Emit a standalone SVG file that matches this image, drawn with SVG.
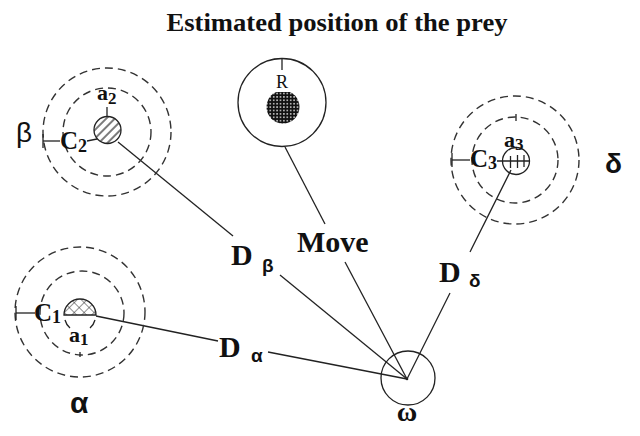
<svg xmlns="http://www.w3.org/2000/svg" width="640" height="436" viewBox="0 0 640 436">
<defs>
<style>
.ln{stroke:#222;stroke-width:1.3;fill:none}
.ds{stroke:#333;stroke-width:1.4;fill:none;stroke-dasharray:8 5}
.sr{font-family:"Liberation Serif","Times New Roman",serif;font-weight:bold;fill:#111}
.ss{font-family:"Liberation Sans",Arial,sans-serif;fill:#111}
.sb{font-family:"Liberation Sans",Arial,sans-serif;font-weight:bold;fill:#111}
</style>
<pattern id="diag" width="6" height="6" patternUnits="userSpaceOnUse" patternTransform="rotate(-45)">
<line x1="0" y1="3" x2="6" y2="3" stroke="#222" stroke-width="1.2"/>
</pattern>
<pattern id="xh" width="7" height="7" patternUnits="userSpaceOnUse" patternTransform="rotate(45)">
<path d="M0 0H7M0 0V7" stroke="#222" stroke-width="1"/>
</pattern>
<pattern id="dots" width="3.4" height="3.4" patternUnits="userSpaceOnUse">
<rect width="3.4" height="3.4" fill="#111"/>
<circle cx="1.7" cy="1.7" r="0.75" fill="#fff"/>
</pattern>
</defs>
<rect width="640" height="436" fill="#fff"/>
<text class="sr" x="337" y="31" font-size="25" text-anchor="middle" textLength="341" lengthAdjust="spacingAndGlyphs">Estimated position of the prey</text>

<g id="connectors">
<line class="ln" x1="118" y1="142" x2="233" y2="236"/>
<line class="ln" x1="280" y1="275" x2="407" y2="379"/>
<line class="ln" x1="285" y1="147" x2="325" y2="224"/>
<line class="ln" x1="345" y1="262" x2="407" y2="379"/>
<line class="ln" x1="96" y1="316" x2="218" y2="341"/>
<line class="ln" x1="268" y1="352" x2="407" y2="379"/>
<line class="ln" x1="511" y1="170" x2="470" y2="252"/>
<line class="ln" x1="450" y1="293" x2="407" y2="379"/>
<text class="sr" x="231" y="265" font-size="30">D</text>
<text class="sb" x="262" y="272" font-size="19">β</text>
<text class="sr" x="297" y="252" font-size="30">Move</text>
<text class="sr" x="219" y="357" font-size="30">D</text>
<text class="sb" x="251" y="362" font-size="19">α</text>
<text class="sr" x="439" y="282" font-size="30">D</text>
<text class="sb" x="469" y="287" font-size="19">δ</text>
</g>

<g id="beta">
<circle class="ds" cx="107" cy="132" r="64"/>
<circle class="ds" cx="107" cy="132" r="44"/>
<circle cx="107.5" cy="130" r="13.5" fill="url(#diag)" stroke="#222" stroke-width="1.3"/>
<line class="ln" x1="107" y1="107" x2="107" y2="117"/>
<line class="ln" x1="43" y1="141" x2="60" y2="141"/>
<line class="ln" x1="43" y1="134" x2="43" y2="148"/>
<line class="ln" x1="87" y1="141" x2="97" y2="139"/>
<text class="sr" x="60" y="149" font-size="25">C<tspan font-size="18" dy="3">2</tspan></text>
<text class="sr" x="97" y="100" font-size="22">a<tspan font-size="17" dy="4">2</tspan></text>
<text class="ss" x="16" y="142" font-size="28">β</text>
</g>

<g id="prey">
<circle class="ln" cx="282" cy="102.5" r="44"/>
<line class="ln" x1="282" y1="58" x2="282" y2="70"/>
<circle cx="283" cy="107" r="16.5" fill="url(#dots)"/>
<rect x="272" y="89" width="20" height="3" fill="#fff"/>
<text x="282" y="88" font-size="18" text-anchor="middle" font-family="Liberation Serif, serif" fill="#111">R</text>
</g>

<g id="delta">
<circle class="ds" cx="515" cy="160" r="64"/>
<circle class="ds" cx="515" cy="160" r="43"/>
<circle class="ln" cx="516" cy="161" r="13.5"/>
<line class="ln" x1="497" y1="161" x2="530" y2="161"/>
<line class="ln" x1="510.5" y1="156" x2="510.5" y2="168"/>
<line class="ln" x1="517.5" y1="155" x2="517.5" y2="168"/>
<line class="ln" x1="524" y1="155" x2="524" y2="167"/>
<line class="ln" x1="516" y1="114" x2="516" y2="121"/>
<line class="ln" x1="452" y1="160" x2="470" y2="160"/>
<line class="ln" x1="452" y1="153" x2="452" y2="167"/>
<text class="sr" x="470" y="167" font-size="25">C<tspan font-size="18" dy="2">3</tspan></text>
<text class="sr" x="504" y="147" font-size="22">a<tspan font-size="17" dy="3">3</tspan></text>
<text class="sb" x="605" y="173" font-size="28">δ</text>
</g>

<g id="alpha">
<circle class="ds" cx="80" cy="312" r="65"/>
<circle class="ds" cx="82" cy="313" r="42"/>
<path d="M64 315A16 16 0 0 1 96 315Z" fill="url(#xh)" stroke="#222" stroke-width="1.3"/>
<path class="ln" d="M65 320A16 16 0 0 0 70 328M90 328A16 16 0 0 0 95 320"/>
<line class="ln" x1="16" y1="313" x2="35" y2="313"/>
<line class="ln" x1="16" y1="306" x2="16" y2="320"/>
<line class="ln" x1="80" y1="352" x2="80" y2="357"/>
<text class="sr" x="34" y="321" font-size="25">C<tspan font-size="18" dy="2">1</tspan></text>
<text class="sr" x="69" y="342" font-size="22">a<tspan font-size="17" dy="3">1</tspan></text>
<text class="sb" x="70" y="413" font-size="30">α</text>
</g>

<g id="omega">
<circle class="ln" cx="408" cy="378" r="27"/>
<circle cx="407" cy="379" r="1.3" fill="#222"/>
<text class="sr" x="407" y="421" font-size="28" text-anchor="middle">ω</text>
</g>
</svg>
